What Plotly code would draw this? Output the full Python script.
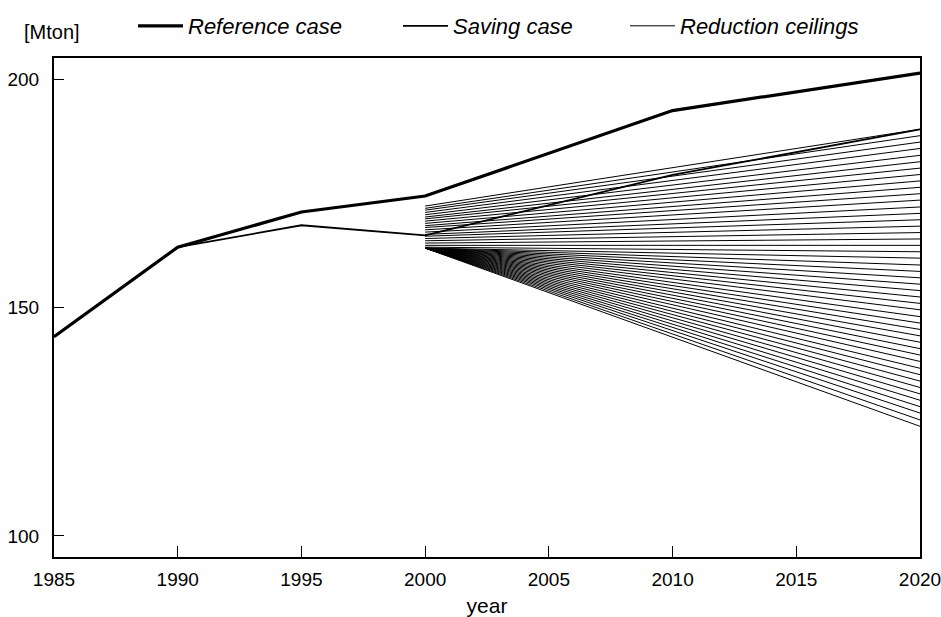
import plotly.graph_objects as go

# ---- data ----
ref_years = [1985, 1990, 1995, 2000, 2010, 2020]
ref_values = [143.6, 163.2, 170.9, 174.4, 193.1, 201.3]

saving_years = [1990, 1995, 2000, 2010, 2020]
saving_values = [163.2, 168.0, 165.8, 179.0, 189.0]

ceiling_years = [2000, 2020]
ceiling_start = [172.2, 171.7, 171.3, 170.8, 170.3, 169.8, 169.4, 168.9, 168.4, 167.9,
                 167.5, 167.0, 166.5, 166.0, 165.6, 165.1, 164.6, 164.1, 163.6, 163.2,
                 163.0, 163.0, 163.0, 163.0, 163.0, 163.0, 163.0, 163.0, 163.0, 163.0,
                 163.0, 163.0, 163.0, 163.0, 163.0, 163.0, 163.0, 163.0, 163.0, 163.0,
                 163.0, 163.0, 163.0, 163.0, 163.0, 163.0, 163.0]
ceiling_end = [189.0, 187.6, 186.2, 184.8, 183.3, 181.9, 180.5, 179.1, 177.7, 176.3,
               174.9, 173.5, 172.0, 170.6, 169.2, 167.8, 166.4, 165.0, 163.6, 162.2,
               160.8, 159.3, 157.9, 156.5, 155.1, 153.7, 152.3, 150.9, 149.5, 148.0,
               146.6, 145.2, 143.8, 142.4, 141.0, 139.6, 138.2, 136.7, 135.3, 133.9,
               132.5, 131.1, 129.7, 128.3, 126.9, 125.4, 124.0]

x_ticks = [1985, 1990, 1995, 2000, 2005, 2010, 2015, 2020]
y_ticks = [100, 150, 200]

FONT = "Liberation Sans, Arial, Helvetica, sans-serif"

fig = go.Figure()

for i, (s, e) in enumerate(zip(ceiling_start, ceiling_end)):
    fig.add_trace(go.Scatter(
        x=ceiling_years, y=[s, e], mode="lines",
        line=dict(color="black", width=1),
        name="Reduction ceilings", legendgroup="ceil",
        showlegend=(i == 0), legend="legend3", hoverinfo="skip"))

fig.add_trace(go.Scatter(
    x=saving_years, y=saving_values, mode="lines",
    line=dict(color="black", width=1.8),
    name="Saving case", legend="legend2", showlegend=True))

fig.add_trace(go.Scatter(
    x=ref_years, y=ref_values, mode="lines",
    line=dict(color="black", width=3.2),
    name="Reference case", legend="legend", showlegend=True))

W, H = 941, 617

leg_common = dict(orientation="h", yref="container", xref="container",
                  yanchor="middle", y=1 - 26 / H, xanchor="left",
                  bgcolor="rgba(0,0,0,0)", borderwidth=0, itemwidth=45,
                  font=dict(family=FONT, size=22, style="italic", color="black"))

fig.update_layout(
    width=W, height=H,
    margin=dict(l=54, r=21, t=58, b=60),
    paper_bgcolor="white", plot_bgcolor="white",
    showlegend=True,
    font=dict(family=FONT, size=19, color="black"),
    legend=dict(x=133 / W, **leg_common),
    legend2=dict(x=398 / W, **leg_common),
    legend3=dict(x=625 / W, **leg_common),
    xaxis=dict(range=[1985, 2020], tickvals=x_ticks, ticks="inside", ticklen=11,
               tickwidth=1, tickcolor="black", showline=True, linecolor="black",
               linewidth=2, mirror=True, showgrid=False, zeroline=False,
               ticklabelstandoff=4, ticklabeloverflow="allow", automargin=False,
               title=dict(text="year", font=dict(size=21), standoff=12)),
    yaxis=dict(range=[95.4, 204.6], tickvals=y_ticks, ticks="inside", ticklen=10,
               tickwidth=1, tickcolor="black", showline=True, linecolor="black",
               linewidth=2, mirror=True, showgrid=False, zeroline=False,
               ticklabelstandoff=9, ticklabeloverflow="allow", automargin=False),
    annotations=[dict(text="[Mton]", xref="paper", yref="paper",
                      x=(22 - 54) / (W - 75), y=1 + (58 - 32) / (H - 118),
                      xanchor="left", yanchor="middle",
                      showarrow=False, font=dict(family=FONT, size=20))],
)

fig.write_html("out.html")
